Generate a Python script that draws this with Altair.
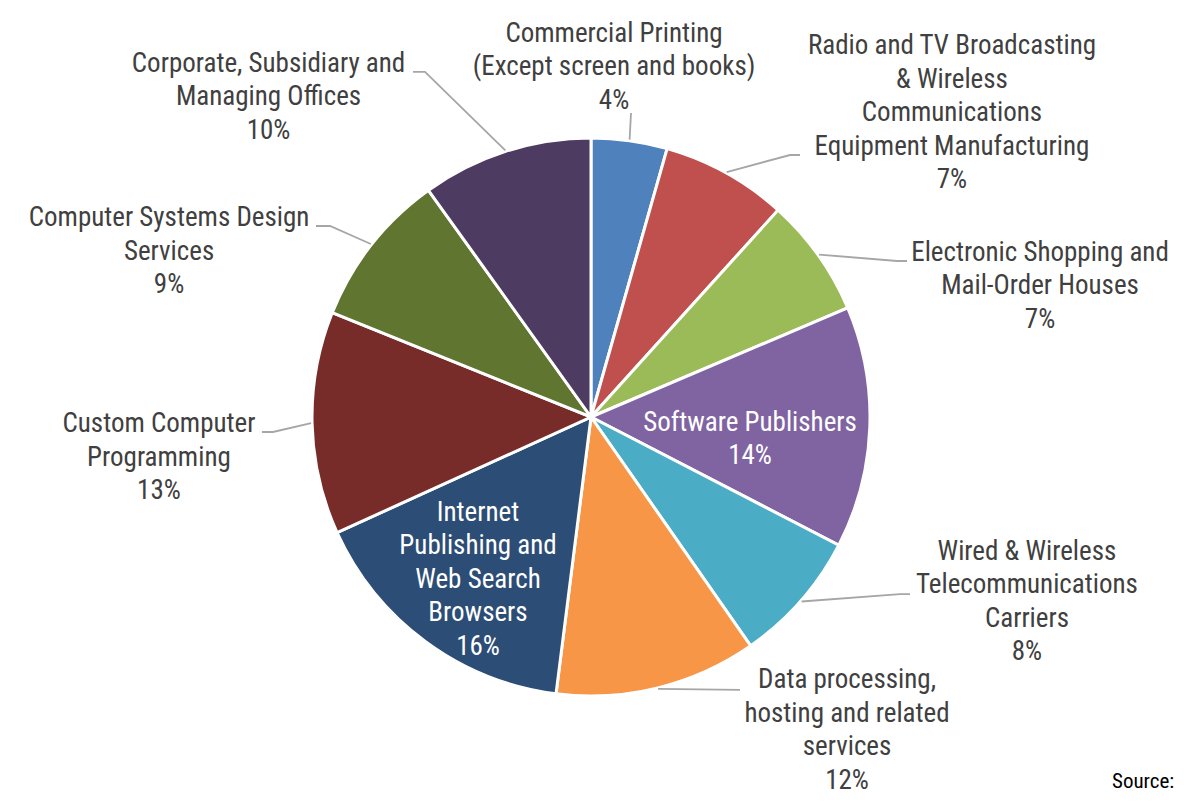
import math
import altair as alt
import pandas as pd

# ---------------- data ----------------
names = [
    "Commercial Printing\n(Except screen and books)",
    "Radio and TV Broadcasting\n& Wireless\nCommunications\nEquipment Manufacturing",
    "Electronic Shopping and\nMail-Order Houses",
    "Software Publishers",
    "Wired & Wireless\nTelecommunications\nCarriers",
    "Data processing,\nhosting and related\nservices",
    "Internet\nPublishing and\nWeb Search\nBrowsers",
    "Custom Computer\nProgramming",
    "Computer Systems Design\nServices",
    "Corporate, Subsidiary and\nManaging Offices",
]
values = [4.4, 7.3, 6.9, 14.0, 7.7, 11.7, 16.2, 12.9, 9.0, 9.9]
colors = ["#4F81BD", "#C0504D", "#9BBB59", "#8064A2", "#4BACC6",
          "#F79646", "#2C4D75", "#772C2A", "#5F7530", "#4D3B62"]
source_text = "Source:"

# ---------------- layout ----------------
FONT = "Roboto Condensed"
FS = 27
LH = 33.5
W, H = 1172, 785
CX, CY = 583, 409          # pie centre inside the plot area (px)
R = 280
label_angle = [3.75, 49.76, 73.58, 97.52, 112.82, 140.63, 215.06, 264.84, 291.59, 314.87]
label_radius = [351.8, 472.9, 468.1, 160.4, 473.0, 403.6, 196.7, 433.8, 453.8, 455.0]
inside = [False, False, False, True, False, False, True, False, False, False]
elbow_angle = [7.5, 37.22, 62.99, None, 119.81, 151.37, None, 267.30, 306.20, 334.31]
elbow_radius = [306.6, 329.0, 343.5, None, 356.1, 311.0, None, 318.4, 323.4, 382.9]
hook = [0, 10, 10, 0, 10, 0, 0, -11, -14, -12]
TEXT_SHIFT = 1.5   # small downward nudge of all label blocks

n = len(values)
total = sum(values)

pie = pd.DataFrame({"idx": list(range(n)), "name": names, "value": values})

# label table (block centre -> first-line position)
nlines = [nm.count("\n") + 2 for nm in names]
lab = pd.DataFrame({
    "idx": list(range(n)),
    "name": names,
    "value": values,
    "lx": [r * math.sin(math.radians(a)) for a, r in zip(label_angle, label_radius)],
    "ly": [r * math.cos(math.radians(a)) + (k - 1) * LH / 2 - TEXT_SHIFT
           for a, r, k in zip(label_angle, label_radius, nlines)],
    "tcol": ["#FFFFFF" if i else "#404040" for i in inside],
})

# leader lines: start on the rim at the slice's mid angle
rows = []
cum = 0.0
for i, v in enumerate(values):
    mid = (cum + v / 2) / total * 360
    cum += v
    if elbow_angle[i] is None:
        continue
    sa = math.radians(mid)
    ea = math.radians(elbow_angle[i])
    ex = elbow_radius[i] * math.sin(ea)
    ey = elbow_radius[i] * math.cos(ea)
    pts = [(R * math.sin(sa), R * math.cos(sa)), (ex, ey), (ex + hook[i], ey)]
    for k, (px, py) in enumerate(pts):
        rows.append({"id": i, "k": k, "px": px, "py": py})
lead = pd.DataFrame(rows)

xs = alt.Scale(domain=[-CX, W - CX], nice=False, zero=False)
ys = alt.Scale(domain=[-(H - CY), CY], nice=False, zero=False)

arcs = alt.Chart(pie).mark_arc(outerRadius=R - 1, stroke="white", strokeWidth=3).encode(
    theta=alt.Theta("value:Q", stack=True),
    order=alt.Order("idx:Q"),
    color=alt.Color("name:N", scale=alt.Scale(domain=names, range=colors), legend=None),
    x=alt.value(CX),
    y=alt.value(CY),
)

leaders = alt.Chart(lead).mark_line(color="#A6A6A6", strokeWidth=1.8).encode(
    x=alt.X("px:Q", scale=xs, axis=None),
    y=alt.Y("py:Q", scale=ys, axis=None),
    detail="id:N",
    order="k:Q",
)

labels = alt.Chart(lab).transform_calculate(
    label="datum.name + '\\n' + format(datum.value / 100, '.0%')"
).mark_text(
    font=FONT, fontSize=FS, lineBreak="\n", lineHeight=LH,
    align="center", baseline="middle",
).encode(
    x=alt.X("lx:Q", scale=xs, axis=None),
    y=alt.Y("ly:Q", scale=ys, axis=None),
    text="label:N",
    color=alt.Color("tcol:N", scale=None),
)

source = alt.Chart(pd.DataFrame({"t": [source_text]})).mark_text(
    font=FONT, fontSize=21, align="left", baseline="middle", color="#000000"
).encode(x=alt.value(1104), y=alt.value(774), text="t:N")

chart = alt.layer(arcs, leaders, labels, source).properties(
    width=W, height=H, padding=0,
    autosize=alt.AutoSizeParams(type="none"),
).configure_view(stroke=None)

chart.save("out.html", embed_options={"renderer": "svg", "actions": False})
